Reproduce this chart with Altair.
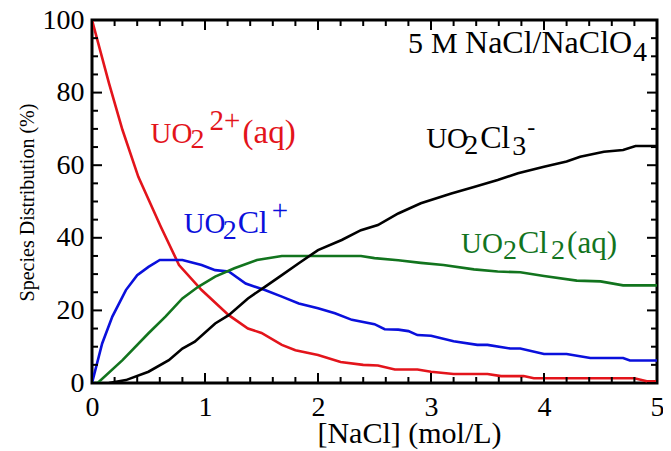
import altair as alt
import pandas as pd

# ---- data ----
red_x = [0, 0.15, 0.27, 0.41, 0.61, 0.77, 0.97, 1.21, 1.38, 1.5, 1.68, 1.8, 2.0, 2.2, 2.4, 2.53,
         2.68, 2.88, 3.0, 3.2, 3.5, 3.62, 3.82, 3.91, 4.8, 4.91, 5.0]
red_y = [100, 82.6, 69.7, 56.8, 43, 32.5, 25.6, 18.7, 15, 13.8, 10.5, 9, 7.7, 5.8, 5, 4.8,
         3.7, 3.7, 3.1, 2.5, 2.5, 1.9, 1.9, 1.3, 1.3, 0.5, 0.5]

blue_x = [0, 0.09, 0.18, 0.3, 0.4, 0.5, 0.6, 0.8, 0.97, 1.09, 1.21, 1.36, 1.53, 1.68, 1.83, 2.0,
          2.15, 2.3, 2.5, 2.59, 2.71, 2.8, 2.88, 3.0, 3.2, 3.41, 3.5, 3.7, 3.79, 4.0, 4.2, 4.41,
          4.7, 4.76, 5.0]
blue_y = [0, 10.9, 18.3, 25.6, 29.7, 32, 33.9, 33.9, 32.5, 31.1, 30.7, 27.4, 25.6, 23.8, 21.9, 20.6,
          19.2, 17.4, 16.2, 14.8, 14.7, 14.3, 13.2, 13, 11.5, 10.5, 10.5, 9.5, 9.5, 8, 8, 6.9,
          6.9, 6.2, 6.2]

green_x = [0, 0.05, 0.27, 0.5, 0.65, 0.8, 0.94, 1.09, 1.26, 1.46, 1.68, 2.0, 2.38, 2.5, 2.71,
           2.91, 3.11, 3.38, 3.59, 3.79, 4.0, 4.29, 4.5, 4.7, 5.0]
green_y = [0, 0, 6.3, 13.7, 18.3, 23.3, 26.5, 29.3, 31.6, 33.9, 35, 35, 35, 34.4, 33.8,
           33.1, 32.5, 31.3, 30.7, 30.5, 29.5, 28.2, 28, 26.9, 26.9]

black_x = [0.15, 0.3, 0.5, 0.68, 0.8, 0.91, 1.09, 1.21, 1.38, 1.53, 1.68, 1.83, 2.0, 2.21, 2.38,
           2.53, 2.71, 2.91, 3.18, 3.38, 3.59, 3.77, 4.0, 4.2, 4.32, 4.53, 4.7, 4.81, 4.97, 5.0]
black_y = [0, 0.8, 3.1, 6.3, 9.5, 11.4, 16.4, 18.7, 23.3, 26.5, 29.7, 33, 36.6, 39.4, 42.1,
           43.5, 46.7, 49.5, 52.2, 54, 55.9, 57.8, 59.6, 61, 62.3, 63.7, 64.2, 65.3, 65.3, 65.3]

series_names = ["UO2++", "UO2Cl+", "UO2Cl2", "UO2Cl3-"]
series_colors = ["#e3141b", "#0a10dc", "#12741e", "#000000"]

x_major = [0, 1, 2, 3, 4, 5]
x_minor = [0.2, 0.4, 0.6, 0.8, 1.2, 1.4, 1.6, 1.8, 2.2, 2.4, 2.6, 2.8, 3.2, 3.4, 3.6, 3.8,
           4.2, 4.4, 4.6, 4.8]
y_major = [0, 20, 40, 60, 80, 100]
y_minor = [5, 10, 15, 25, 30, 35, 45, 50, 55, 65, 70, 75, 85, 90, 95]

FONT = "Liberation Serif"
W, H = 565, 363

frames = []
for name, xs, ys in [(series_names[0], red_x, red_y), (series_names[1], blue_x, blue_y),
                     (series_names[2], green_x, green_y), (series_names[3], black_x, black_y)]:
    frames.append(pd.DataFrame({"x": xs, "y": ys, "s": name}))
df = pd.concat(frames, ignore_index=True)

xscale = alt.Scale(domain=[0, 5], nice=False, zero=False)
yscale = alt.Scale(domain=[0, 100], nice=False, zero=False)

xaxis = alt.Axis(
    values=x_major, format="d", ticks=False, domain=False, grid=False, labelFlush=False,
    labelFont=FONT, labelFontSize=28, labelPadding=10, labelColor="black",
    title="[NaCl] (mol/L)", titleFont=FONT, titleFontSize=30, titleFontWeight="normal",
    titleColor="black", titleX=317, titleY=59, titleAlign="center",
    titleBaseline="alphabetic")
yaxis = alt.Axis(
    values=y_major, format="d", ticks=False, domain=False, grid=False, labelFlush=False,
    labelFont=FONT, labelFontSize=28, labelPadding=8, labelColor="black",
    title="Species Distribution (%)", titleFont=FONT, titleFontSize=20,
    titleFontWeight="normal", titleColor="black", titleX=-59, titleY=182,
    titleAngle=270, titleAlign="center", titleBaseline="alphabetic")


def X(field):
    return alt.X(field, scale=xscale, axis=xaxis)


def Y(field):
    return alt.Y(field, scale=yscale, axis=yaxis)


lines = alt.Chart(df).mark_line(strokeWidth=2.6, clip=True).encode(
    x=X("x:Q"), y=Y("y:Q"),
    color=alt.Color("s:N", scale=alt.Scale(domain=series_names, range=series_colors), legend=None),
    order=alt.Order("x:Q"),
)

layers = [lines]


def xticks(vals, length):
    d = pd.DataFrame({"v": vals})
    b = alt.Chart(d).mark_rule(color="black", strokeWidth=2).encode(
        x=X("v:Q"), y=alt.value(H), y2=alt.value(H - length))
    t = alt.Chart(d).mark_rule(color="black", strokeWidth=2).encode(
        x=X("v:Q"), y=alt.value(0), y2=alt.value(length))
    return [b, t]


def yticks(vals, length):
    d = pd.DataFrame({"v": vals})
    l = alt.Chart(d).mark_rule(color="black", strokeWidth=2).encode(
        y=Y("v:Q"), x=alt.value(0), x2=alt.value(length))
    r = alt.Chart(d).mark_rule(color="black", strokeWidth=2).encode(
        y=Y("v:Q"), x=alt.value(W), x2=alt.value(W - length))
    return [l, r]


layers += xticks(x_major, 10) + xticks(x_minor, 6) + yticks(y_major, 10) + yticks(y_minor, 6)

# label pieces: (text, dx, dy, size)
labels = [
    ("#e3141b", 0.518, 66.1, [("UO", 0, 0, 29), ("2", 40, 5, 28), ("2+", 59, -13, 29), ("(aq)", 92, 0, 33)]),
    ("#0a10dc", 0.811, 41.3, [("UO", 0, 0, 29), ("2", 39, 6, 28), ("C", 54, 0, 32), ("l", 75, 0, 32), ("+", 88, -13, 29)]),
    ("#000000", 2.957, 64.7, [("UO", 0, 0, 29), ("2", 38, 6, 28), ("C", 54, 0, 32), ("l", 75, 0, 32), ("3", 86, 7, 28), ("-", 101, -13, 24)]),
    ("#12741e", 3.266, 35.8, [("UO", 0, 0, 29), ("2", 42, 6, 28), ("C", 57, 0, 32), ("l", 78, 0, 32), ("2", 90, 6, 28), ("(aq)", 106, 0, 31)]),
    ("#000000", 2.797, 91.0, [("5", 0, 0, 30), ("M", 23, 0, 30), ("NaCl/NaClO", 57, 0, 32), ("4", 225, 8, 28)]),
]

for color, lx, ly, pieces in labels:
    d = pd.DataFrame({"x": [lx], "y": [ly]})
    for txt, dx, dy, size in pieces:
        layers.append(alt.Chart(d).mark_text(
            text=txt, dx=dx, dy=dy, fontSize=size, font=FONT, color=color,
            align="left", baseline="alphabetic").encode(x=X("x:Q"), y=Y("y:Q")))

chart = alt.layer(*layers).properties(
    width=W, height=H,
    autosize=alt.AutoSizeParams(type="none"),
    padding={"left": 84, "top": 12, "right": 6, "bottom": 68},
).configure_view(stroke="black", strokeWidth=3)

chart.save("out.html", embed_options={"renderer": "svg", "actions": False})
